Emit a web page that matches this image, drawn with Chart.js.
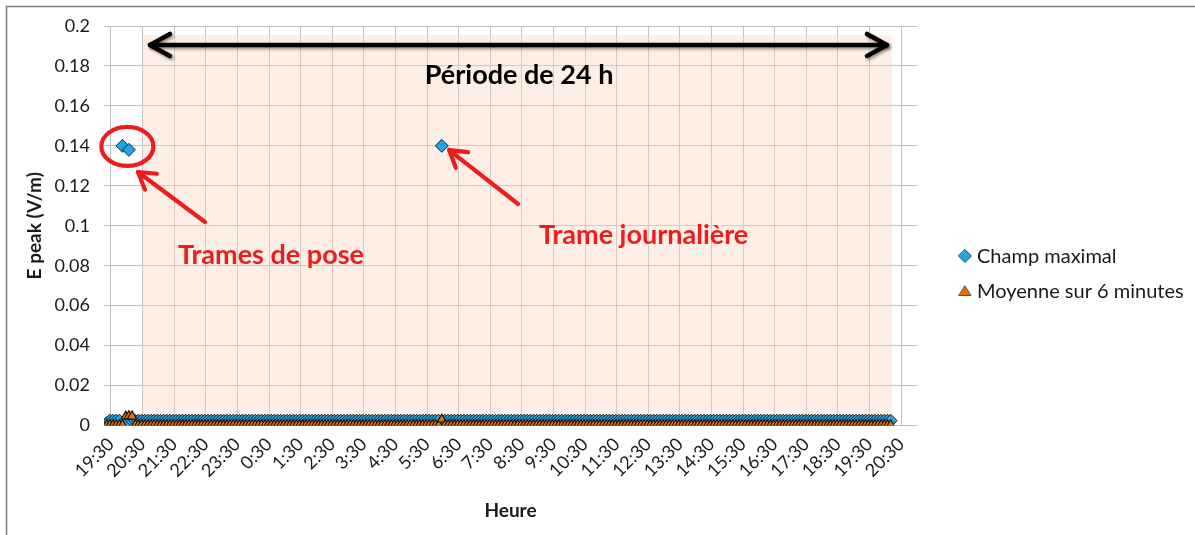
<!DOCTYPE html>
<html>
<head>
<meta charset="utf-8">
<script src="https://cdn.jsdelivr.net/npm/chart.js@4.4.1/dist/chart.umd.min.js"></script>
<style>
html,body{margin:0;padding:0;background:#fff;}
#wrap{position:relative;width:1195px;height:535px;}
</style>
</head>
<body>
<div id="wrap"><canvas id="c" width="1195" height="535"></canvas></div>
<script>
// Sample times (6-minute measurements), from 19:22 to 20:10 the next day
const times = [
"19:22","19:28","19:34","19:40","19:46","19:52","19:58",
"20:04","20:10","20:16","20:22","20:28","20:34","20:40","20:46","20:52","20:58",
"21:04","21:10","21:16","21:22","21:28","21:34","21:40","21:46","21:52","21:58",
"22:04","22:10","22:16","22:22","22:28","22:34","22:40","22:46","22:52","22:58",
"23:04","23:10","23:16","23:22","23:28","23:34","23:40","23:46","23:52","23:58",
"0:04","0:10","0:16","0:22","0:28","0:34","0:40","0:46","0:52","0:58",
"1:04","1:10","1:16","1:22","1:28","1:34","1:40","1:46","1:52","1:58",
"2:04","2:10","2:16","2:22","2:28","2:34","2:40","2:46","2:52","2:58",
"3:04","3:10","3:16","3:22","3:28","3:34","3:40","3:46","3:52","3:58",
"4:04","4:10","4:16","4:22","4:28","4:34","4:40","4:46","4:52","4:58",
"5:04","5:10","5:16","5:22","5:28","5:34","5:40","5:46","5:52","5:58",
"6:04","6:10","6:16","6:22","6:28","6:34","6:40","6:46","6:52","6:58",
"7:04","7:10","7:16","7:22","7:28","7:34","7:40","7:46","7:52","7:58",
"8:04","8:10","8:16","8:22","8:28","8:34","8:40","8:46","8:52","8:58",
"9:04","9:10","9:16","9:22","9:28","9:34","9:40","9:46","9:52","9:58",
"10:04","10:10","10:16","10:22","10:28","10:34","10:40","10:46","10:52","10:58",
"11:04","11:10","11:16","11:22","11:28","11:34","11:40","11:46","11:52","11:58",
"12:04","12:10","12:16","12:22","12:28","12:34","12:40","12:46","12:52","12:58",
"13:04","13:10","13:16","13:22","13:28","13:34","13:40","13:46","13:52","13:58",
"14:04","14:10","14:16","14:22","14:28","14:34","14:40","14:46","14:52","14:58",
"15:04","15:10","15:16","15:22","15:28","15:34","15:40","15:46","15:52","15:58",
"16:04","16:10","16:16","16:22","16:28","16:34","16:40","16:46","16:52","16:58",
"17:04","17:10","17:16","17:22","17:28","17:34","17:40","17:46","17:52","17:58",
"18:04","18:10","18:16","18:22","18:28","18:34","18:40","18:46","18:52","18:58",
"19:04","19:10","19:16","19:22","19:28","19:34","19:40","19:46","19:52","19:58",
"20:04","20:10"
];

// Champ maximal (V/m)
const champMaximal = [
0.0012,0.0024,0.0024,0.0024,0.0024,0.14,0.0005,
0.138,0.0024,0.0024,0.0024,0.0024,0.0024,0.0024,0.0024,0.0024,0.0024,
0.0024,0.0024,0.0024,0.0024,0.0024,0.0024,0.0024,0.0024,0.0024,0.0024,
0.0024,0.0024,0.0024,0.0024,0.0024,0.0024,0.0024,0.0024,0.0024,0.0024,
0.0024,0.0024,0.0024,0.0024,0.0024,0.0024,0.0024,0.0024,0.0024,0.0024,
0.0024,0.0024,0.0024,0.0024,0.0024,0.0024,0.0024,0.0024,0.0024,0.0024,
0.0024,0.0024,0.0024,0.0024,0.0024,0.0024,0.0024,0.0024,0.0024,0.0024,
0.0024,0.0024,0.0024,0.0024,0.0024,0.0024,0.0024,0.0024,0.0024,0.0024,
0.0024,0.0024,0.0024,0.0024,0.0024,0.0024,0.0024,0.0024,0.0024,0.0024,
0.0024,0.0024,0.0024,0.0024,0.0024,0.0024,0.0024,0.0024,0.0024,0.0024,
0.0024,0.0024,0.0024,0.0024,0.0024,0.0024,0.0024,0.0024,0.0024,0.14,
0.0024,0.0024,0.0024,0.0024,0.0024,0.0024,0.0024,0.0024,0.0024,0.0024,
0.0024,0.0024,0.0024,0.0024,0.0024,0.0024,0.0024,0.0024,0.0024,0.0024,
0.0024,0.0024,0.0024,0.0024,0.0024,0.0024,0.0024,0.0024,0.0024,0.0024,
0.0024,0.0024,0.0024,0.0024,0.0024,0.0024,0.0024,0.0024,0.0024,0.0024,
0.0024,0.0024,0.0024,0.0024,0.0024,0.0024,0.0024,0.0024,0.0024,0.0024,
0.0024,0.0024,0.0024,0.0024,0.0024,0.0024,0.0024,0.0024,0.0024,0.0024,
0.0024,0.0024,0.0024,0.0024,0.0024,0.0024,0.0024,0.0024,0.0024,0.0024,
0.0024,0.0024,0.0024,0.0024,0.0024,0.0024,0.0024,0.0024,0.0024,0.0024,
0.0024,0.0024,0.0024,0.0024,0.0024,0.0024,0.0024,0.0024,0.0024,0.0024,
0.0024,0.0024,0.0024,0.0024,0.0024,0.0024,0.0024,0.0024,0.0024,0.0024,
0.0024,0.0024,0.0024,0.0024,0.0024,0.0024,0.0024,0.0024,0.0024,0.0024,
0.0024,0.0024,0.0024,0.0024,0.0024,0.0024,0.0024,0.0024,0.0024,0.0024,
0.0024,0.0024,0.0024,0.0024,0.0024,0.0024,0.0024,0.0024,0.0024,0.0024,
0.0024,0.0024,0.0024,0.0024,0.0024,0.0024,0.0024,0.0024,0.0024,0.0024,
0.0024,0.0024
];

// Moyenne sur 6 minutes (V/m)
const moyenne6min = [
0.0002,0.0002,0.0002,0.0002,0.0002,0.0002,0.0045,
0.0047,0.0046,0.0002,0.0002,0.0002,0.0002,0.0002,0.0002,0.0002,0.0002,
0.0002,0.0002,0.0002,0.0002,0.0002,0.0002,0.0002,0.0002,0.0002,0.0002,
0.0002,0.0002,0.0002,0.0002,0.0002,0.0002,0.0002,0.0002,0.0002,0.0002,
0.0002,0.0002,0.0002,0.0002,0.0002,0.0002,0.0002,0.0002,0.0002,0.0002,
0.0002,0.0002,0.0002,0.0002,0.0002,0.0002,0.0002,0.0002,0.0002,0.0002,
0.0002,0.0002,0.0002,0.0002,0.0002,0.0002,0.0002,0.0002,0.0002,0.0002,
0.0002,0.0002,0.0002,0.0002,0.0002,0.0002,0.0002,0.0002,0.0002,0.0002,
0.0002,0.0002,0.0002,0.0002,0.0002,0.0002,0.0002,0.0002,0.0002,0.0002,
0.0002,0.0002,0.0002,0.0002,0.0002,0.0002,0.0002,0.0002,0.0002,0.0002,
0.0002,0.0002,0.0002,0.0002,0.0002,0.0002,0.0002,0.0002,0.0002,0.003,
0.0002,0.0002,0.0002,0.0002,0.0002,0.0002,0.0002,0.0002,0.0002,0.0002,
0.0002,0.0002,0.0002,0.0002,0.0002,0.0002,0.0002,0.0002,0.0002,0.0002,
0.0002,0.0002,0.0002,0.0002,0.0002,0.0002,0.0002,0.0002,0.0002,0.0002,
0.0002,0.0002,0.0002,0.0002,0.0002,0.0002,0.0002,0.0002,0.0002,0.0002,
0.0002,0.0002,0.0002,0.0002,0.0002,0.0002,0.0002,0.0002,0.0002,0.0002,
0.0002,0.0002,0.0002,0.0002,0.0002,0.0002,0.0002,0.0002,0.0002,0.0002,
0.0002,0.0002,0.0002,0.0002,0.0002,0.0002,0.0002,0.0002,0.0002,0.0002,
0.0002,0.0002,0.0002,0.0002,0.0002,0.0002,0.0002,0.0002,0.0002,0.0002,
0.0002,0.0002,0.0002,0.0002,0.0002,0.0002,0.0002,0.0002,0.0002,0.0002,
0.0002,0.0002,0.0002,0.0002,0.0002,0.0002,0.0002,0.0002,0.0002,0.0002,
0.0002,0.0002,0.0002,0.0002,0.0002,0.0002,0.0002,0.0002,0.0002,0.0002,
0.0002,0.0002,0.0002,0.0002,0.0002,0.0002,0.0002,0.0002,0.0002,0.0002,
0.0002,0.0002,0.0002,0.0002,0.0002,0.0002,0.0002,0.0002,0.0002,0.0002,
0.0002,0.0002,0.0002,0.0002,0.0002,0.0002,0.0002,0.0002,0.0002,0.0002,
0.0002,0.0002
];

// X tick labels (one per hour, starting at 19:30)
const tickLabels = ["19:30","20:30","21:30","22:30","23:30","0:30","1:30","2:30","3:30","4:30","5:30","6:30","7:30","8:30","9:30","10:30","11:30","12:30","13:30","14:30","15:30","16:30","17:30","18:30","19:30","20:30"];
// Y tick values
const yTicks = [0,0.02,0.04,0.06,0.08,0.1,0.12,0.14,0.16,0.18,0.2];

const seriesNames = ["Champ maximal","Moyenne sur 6 minutes"];

// convert "H:MM" strings to hours elapsed since 19:30 on day 1
function toHours(list){
  let day = 0, prev = -1, out = [];
  for (const t of list){
    const [h,m] = t.split(":").map(Number);
    const raw = h + m/60;
    if (prev >= 0 && raw < prev) day += 24;
    prev = raw;
    out.push(raw + day - 19.5);
  }
  return out;
}
const xs = toHours(times);
const blueData = xs.map((x,i)=>({x, y: champMaximal[i]}));
const orangeData = xs.map((x,i)=>({x, y: moyenne6min[i]}));

const FONT = "Lato, 'Open Sans', 'DejaVu Sans', sans-serif";

const decorPlugin = {
  id: 'decor',
  beforeDraw(chart){
    const ctx = chart.ctx;
    ctx.save();
    ctx.fillStyle = '#fff';
    ctx.fillRect(0,0,chart.width,chart.height);
    ctx.strokeStyle = '#808080';
    ctx.lineWidth = 1.6;
    ctx.strokeRect(6.5,6.5,1200,540);
    ctx.restore();
  },
  beforeDatasetsDraw(chart){
    const {ctx, scales:{x,y}} = chart;
    ctx.save();
    const x0 = x.getPixelForValue(1.0), x1 = x.getPixelForValue(24.705);
    const y0 = y.getPixelForValue(0.1955), y1 = y.getPixelForValue(0);
    ctx.fillStyle = 'rgba(250,215,190,0.4)';
    ctx.fillRect(x0,y0,x1-x0,y1-y0);
    ctx.restore();
  },
  afterDraw(chart){
    const {ctx, scales:{x,y}} = chart;
    const X = v=>x.getPixelForValue(v), Y = v=>y.getPixelForValue(v);
    ctx.save();
    // black double arrow
    ctx.shadowColor = 'rgba(0,0,0,0.4)';
    ctx.shadowBlur = 3; ctx.shadowOffsetX = 1.5; ctx.shadowOffsetY = 2;
    ctx.strokeStyle = '#000'; ctx.lineWidth = 4.5; ctx.lineCap = 'round'; ctx.lineJoin='round';
    const ay = Y(0.1905), ax0 = X(1.234), ax1 = X(24.55);
    ctx.beginPath(); ctx.moveTo(ax0,ay); ctx.lineTo(ax1,ay); ctx.stroke();
    ctx.beginPath(); ctx.moveTo(ax0+20,ay-11); ctx.lineTo(ax0,ay); ctx.lineTo(ax0+20,ay+11); ctx.stroke();
    ctx.beginPath(); ctx.moveTo(ax1-20,ay-11); ctx.lineTo(ax1,ay); ctx.lineTo(ax1-20,ay+11); ctx.stroke();
    ctx.shadowColor = 'transparent';
    // title text
    ctx.fillStyle = '#000';
    ctx.font = "bold 27px " + FONT;
    ctx.textAlign = 'center'; ctx.textBaseline = 'middle';
    ctx.fillText('Période de 24 h', X(12.91), Y(0.1753));
    // red annotations
    const red = '#ee1c1c';
    ctx.strokeStyle = red; ctx.lineWidth = 4.2;
    ctx.beginPath(); ctx.ellipse(X(0.519), Y(0.1397), 26, 19.5, 0, 0, Math.PI*2); ctx.stroke();
    function arrow(tx,ty,hx,hy){
      const x1=X(tx),y1=Y(ty),x2=X(hx),y2=Y(hy);
      const ang = Math.atan2(y2-y1,x2-x1), L=19, a=0.55;
      ctx.beginPath(); ctx.moveTo(x1,y1); ctx.lineTo(x2,y2); ctx.stroke();
      ctx.beginPath();
      ctx.moveTo(x2-L*Math.cos(ang-a), y2-L*Math.sin(ang-a));
      ctx.lineTo(x2,y2);
      ctx.lineTo(x2-L*Math.cos(ang+a), y2-L*Math.sin(ang+a));
      ctx.stroke();
    }
    arrow(2.975,0.1019,0.854,0.1269);
    arrow(12.88,0.1109,10.70,0.1379);
    ctx.fillStyle = red;
    ctx.font = "bold 27px " + FONT;
    ctx.textAlign = 'left'; ctx.textBaseline = 'middle';
    ctx.fillText('Trames de pose', X(2.12), Y(0.0853));
    ctx.fillText('Trame journalière', X(13.54), Y(0.0954));
    // legend
    ctx.lineWidth = 0.8; ctx.strokeStyle = '#1b3440';
    ctx.fillStyle = '#22a5dc';
    const lx = 965, ly1 = 256, ly2 = 291;
    ctx.beginPath(); ctx.moveTo(lx,ly1-6.5); ctx.lineTo(lx+6.5,ly1); ctx.lineTo(lx,ly1+6.5); ctx.lineTo(lx-6.5,ly1); ctx.closePath(); ctx.fill(); ctx.stroke();
    ctx.fillStyle = '#e2700f'; ctx.strokeStyle = '#5a2a08';
    ctx.beginPath(); ctx.moveTo(lx,ly2-5); ctx.lineTo(lx+6,ly2+4.5); ctx.lineTo(lx-6,ly2+4.5); ctx.closePath(); ctx.fill(); ctx.stroke();
    ctx.fillStyle = '#1a1a1a';
    ctx.font = "20px " + FONT;
    ctx.fillText(seriesNames[0], 977, ly1+1);
    ctx.fillText(seriesNames[1], 977, ly2+1);
    ctx.restore();
  }
};

new Chart(document.getElementById('c'), {
  type: 'scatter',
  data: {
    datasets: [
      { label: seriesNames[0], data: blueData, pointStyle: 'rectRot', pointRadius: 6.5,
        backgroundColor: '#22a5dc', borderColor: '#15262e', borderWidth: 1, order: 1 },
      { label: seriesNames[1], data: orangeData, pointStyle: 'triangle', pointRadius: 5.4,
        backgroundColor: '#e2700f', borderColor: '#241002', borderWidth: 1.2, order: 0 }
    ]
  },
  options: {
    responsive: false,
    animation: false,
    events: [],
    layout: { padding: { left: 0, right: 278, top: 26, bottom: 0 } },
    plugins: { legend: { display: false }, tooltip: { enabled: false } },
    scales: {
      x: {
        type: 'linear',
        min: -0.22, max: 25.5,
        afterBuildTicks: s => { s.ticks = tickLabels.map((l,i)=>({value:i})); },
        afterFit: s => { s.height = 109.5; },
        grid: { color: '#c0c0c0', lineWidth: 1, drawTicks: false },
        border: { display: false },
        ticks: {
          autoSkip: false, maxRotation: 45, minRotation: 45, padding: 8,
          color: '#1a1a1a', font: { family: FONT, size: 18 },
          callback: v => tickLabels[Math.round(v)]
        },
        title: { display: true, text: 'Heure', color: '#1a1a1a',
          font: { family: FONT, size: 19, weight: 'bold' }, padding: { top: 4, bottom: 13 } }
      },
      y: {
        min: 0, max: 0.2,
        afterBuildTicks: s => { s.ticks = yTicks.map(v=>({value:v})); },
        afterFit: s => { s.width = 104; },
        grid: { color: '#c0c0c0', lineWidth: 1, drawTicks: false },
        border: { display: false },
        ticks: { padding: 14, color: '#1a1a1a', font: { family: FONT, size: 18 },
          callback: v => String(Number(v.toFixed(2))) },
        title: { display: true, text: 'E peak (V/m)', color: '#1a1a1a',
          font: { family: FONT, size: 19, weight: 'bold' }, padding: { top: 23, bottom: 0 } }
      }
    }
  },
  plugins: [decorPlugin]
});
</script>
</body>
</html>
